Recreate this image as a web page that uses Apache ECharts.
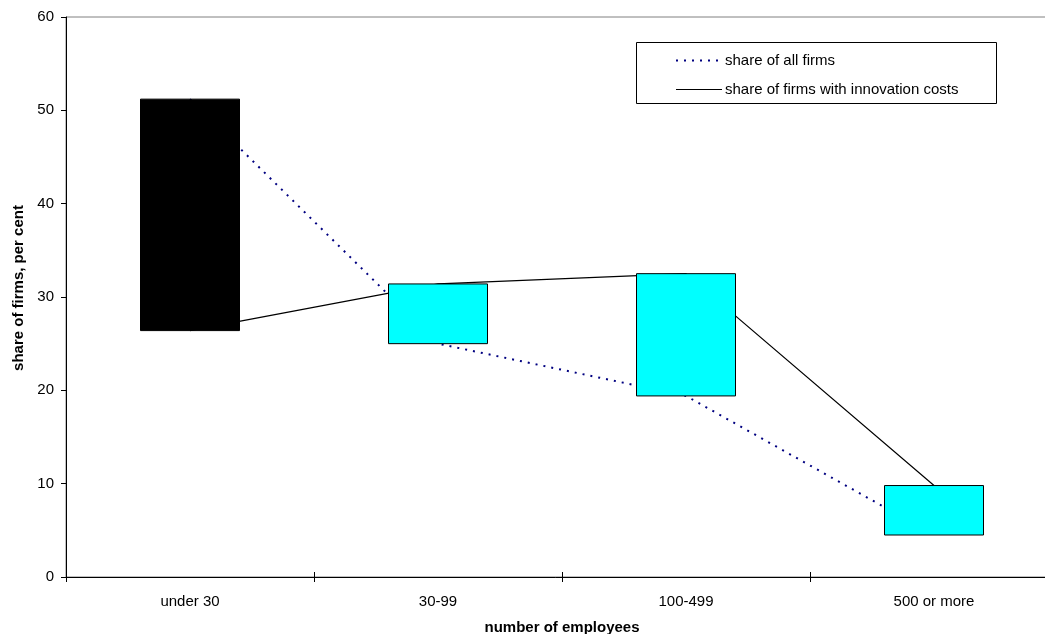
<!DOCTYPE html>
<html>
<head>
<meta charset="utf-8">
<script src="https://cdn.jsdelivr.net/npm/echarts@6/dist/echarts.min.js"></script>
<style>html,body{margin:0;padding:0;background:#fff;}#c{width:1045px;height:634px;}</style>
</head>
<body>
<div id="c"></div>
<script>
const categories = ['under 30', '30-99', '100-499', '500 or more'];
const allFirms = [51.2, 25.0, 19.4, 4.5];
const innovFirms = [26.4, 31.4, 32.5, 9.8];
const seriesNames = ['share of all firms', 'share of firms with innovation costs'];

const candleData = categories.map((c, i) => [allFirms[i], innovFirms[i], Math.min(allFirms[i], innovFirms[i]), Math.max(allFirms[i], innovFirms[i])]);

const font = 'Liberation Sans, Arial, sans-serif';
const chart = echarts.init(document.getElementById('c'), null, {renderer: 'canvas'});
chart.setOption({
  animation: false,
  textStyle: {fontFamily: font},
  grid: {left: 66, right: -13, top: 17, bottom: 57, containLabel: false, outerBoundsMode: 'none',
         show: true, borderColor: '#808080', borderWidth: 1, backgroundColor: 'transparent'},
  graphic: [{
    type: 'rect', left: 636, top: 42, z: 10,
    shape: {width: 360, height: 61},
    style: {fill: '#fff', stroke: '#000', lineWidth: 1}
  }],
  legend: {
    orient: 'vertical', left: 670, top: 48, z: 20,
    itemWidth: 46, itemHeight: 10, itemGap: 14,
    itemStyle: {opacity: 0},
    textStyle: {fontFamily: font, fontSize: 15, lineHeight: 15, color: '#000', padding: [0, 0, 0, -2]},
    data: [
      {name: seriesNames[0], lineStyle: {width: 2}},
      {name: seriesNames[1], lineStyle: {width: 1}}
    ]
  },
  xAxis: [{
    type: 'category', data: categories, boundaryGap: true,
    axisLine: {lineStyle: {color: '#000', width: 1}},
    axisTick: {show: true, inside: false, length: 5, lineStyle: {color: '#000'}},
    axisLabel: {color: '#000', fontSize: 15, fontFamily: font, margin: 17},
    name: 'number of employees', nameLocation: 'middle', nameGap: 43,
    nameTextStyle: {fontWeight: 'bold', fontSize: 15, color: '#000', fontFamily: font}
  }, {
    type: 'category', data: categories, boundaryGap: true, position: 'bottom',
    axisLine: {show: false},
    axisTick: {show: true, inside: true, length: 5, lineStyle: {color: '#000'}},
    axisLabel: {show: false}
  }],
  yAxis: {
    type: 'value', min: 0, max: 60, interval: 10,
    axisLine: {show: true, lineStyle: {color: '#000', width: 1}},
    axisTick: {show: true, length: 5, lineStyle: {color: '#000'}},
    splitLine: {show: false},
    axisLabel: {color: '#000', fontSize: 15, fontFamily: font, margin: 12},
    name: 'share of firms, per cent', nameLocation: 'middle', nameGap: 39, nameRotate: 90,
    nameTextStyle: {fontWeight: 'bold', fontSize: 15, color: '#000', fontFamily: font, padding: [0, 0, 0, 18]}
  },
  series: [{
    name: seriesNames[0], type: 'line', data: allFirms, z: 1,
    symbol: 'none',
    lineStyle: {color: '#000080', width: 2, type: [2, 6]},
    itemStyle: {color: '#000080'}
  }, {
    name: seriesNames[1], type: 'line', data: innovFirms, z: 1,
    symbol: 'none',
    lineStyle: {color: '#000', width: 1.2, type: 'solid'},
    itemStyle: {color: '#000'}
  }, {
    type: 'candlestick', data: candleData, z: 3,
    barWidth: '40.3%', barMaxWidth: 300,
    itemStyle: {color: '#00FFFF', color0: '#000000', borderColor: '#000', borderColor0: '#000', borderWidth: 1}
  }]
});
</script>
</body>
</html>
